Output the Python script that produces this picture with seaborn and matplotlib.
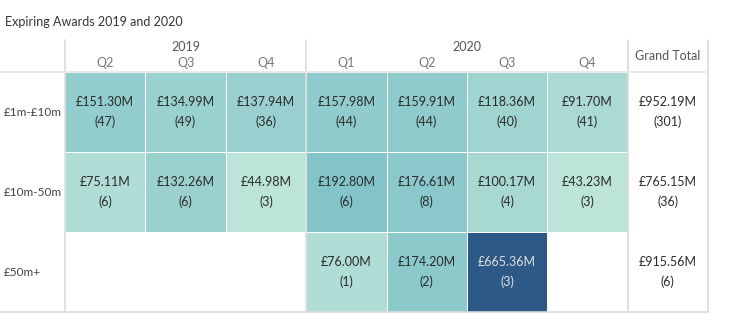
import numpy as np
import pandas as pd
import matplotlib
matplotlib.use("Agg")
import matplotlib.pyplot as plt
from matplotlib.colors import LinearSegmentedColormap
import seaborn as sns

# ---- data ----
years = ["2019", "2019", "2019", "2020", "2020", "2020", "2020"]
quarters = ["Q2", "Q3", "Q4", "Q1", "Q2", "Q3", "Q4"]
bands = ["£1m-£10m", "£10m-50m", "£50m+"]
value_1m_10m = [151.30, 134.99, 137.94, 157.98, 159.91, 118.36, 91.70]
count_1m_10m = [47, 49, 36, 44, 44, 40, 41]
value_10m_50m = [75.11, 132.26, 44.98, 192.80, 176.61, 100.17, 43.23]
count_10m_50m = [6, 6, 3, 6, 8, 4, 3]
value_50m = [np.nan, np.nan, np.nan, 76.00, 174.20, 665.36, np.nan]
count_50m = [None, None, None, 1, 2, 3, None]
total_values = [952.19, 765.15, 915.56]
total_counts = [301, 36, 6]

sns.set_theme(style="white")
plt.rcParams['font.family'] = ['Lato', 'DejaVu Sans']

values = pd.DataFrame([value_1m_10m, value_10m_50m, value_50m], index=bands)
counts = [count_1m_10m, count_10m_50m, count_50m]
values_full = values.copy()
values_full[len(quarters)] = np.nan

cmap = LinearSegmentedColormap.from_list("blueteal", ["#bce4d8", "#45a2b9", "#2c5985"])

W, H = 750, 322
fig = plt.figure(figsize=(W / 100, H / 100), dpi=100)
x0, x1, ytop, ybot = 65, 708, 72, 312
ax = fig.add_axes([x0 / W, 1 - ybot / H, (x1 - x0) / W, (ybot - ytop) / H])

sns.heatmap(values_full, ax=ax, cmap=cmap, cbar=False, mask=values_full.isna(),
            linewidths=0.5, linecolor="white", annot=False)
ax.set_xticks([]); ax.set_yticks([])
ax.set_xlabel(""); ax.set_ylabel("")
for s in ax.spines.values():
    s.set_visible(False)

vmin = np.nanmin(values.values); vmax = np.nanmax(values.values)
ncol = len(quarters)
fs = 9
for r in range(len(bands)):
    for c in range(ncol):
        v = values.iloc[r, c]
        if np.isnan(v):
            continue
        frac = (v - vmin) / (vmax - vmin)
        col = "#e0e0e0" if frac > 0.6 else "#2b2b2b"
        ax.text(c + 0.5, r + 0.5, f"£{v:.2f}M\n({counts[r][c]})", ha="center", va="center",
                fontsize=fs, color=col, linespacing=1.75)
    ax.text(ncol + 0.5, r + 0.5, f"£{total_values[r]:.2f}M\n({total_counts[r]})", ha="center",
            va="center", fontsize=fs, color="#2b2b2b", linespacing=1.75)

# header
unit_px = (x1 - x0) / (ncol + 1)
cell_h = (ybot - ytop) / len(bands)
hdr = (ytop - 40) / cell_h
left_units = -x0 / unit_px
for c, q in enumerate(quarters):
    ax.text(c + 0.5, -0.11, q, ha="center", va="center", fontsize=fs, color="#777777", clip_on=False)
ax.text(1.5, -0.31, "2019", ha="center", va="center", fontsize=fs, color="#555555", clip_on=False)
ax.text(5.0, -0.31, "2020", ha="center", va="center", fontsize=fs, color="#555555", clip_on=False)
ax.text(ncol + 0.5, -0.2, "Grand Total", ha="center", va="center", fontsize=fs, color="#555555", clip_on=False)
for r, b in enumerate(bands):
    ax.text(left_units + 4 / unit_px, r + 0.5, b, ha="left", va="center",
            fontsize=8.5, color="#444444", clip_on=False)

lc = "#dcdcdc"
for xv in [0, 3, ncol, ncol + 1]:
    ax.plot([xv, xv], [-hdr, len(bands)], color=lc, lw=1.2, clip_on=False, zorder=5)
ax.plot([left_units, ncol + 1], [0, 0], color="#e8e8e8", lw=1.2, clip_on=False, zorder=5)
ax.plot([left_units, ncol + 1], [len(bands), len(bands)], color=lc, lw=1.2, clip_on=False, zorder=5)

fig.text(5 / W, 1 - 22 / H, "Expiring Awards 2019 and 2020", ha="left", va="center",
         fontsize=fs, color="#333333")

fig.savefig("out.png", dpi=100)
